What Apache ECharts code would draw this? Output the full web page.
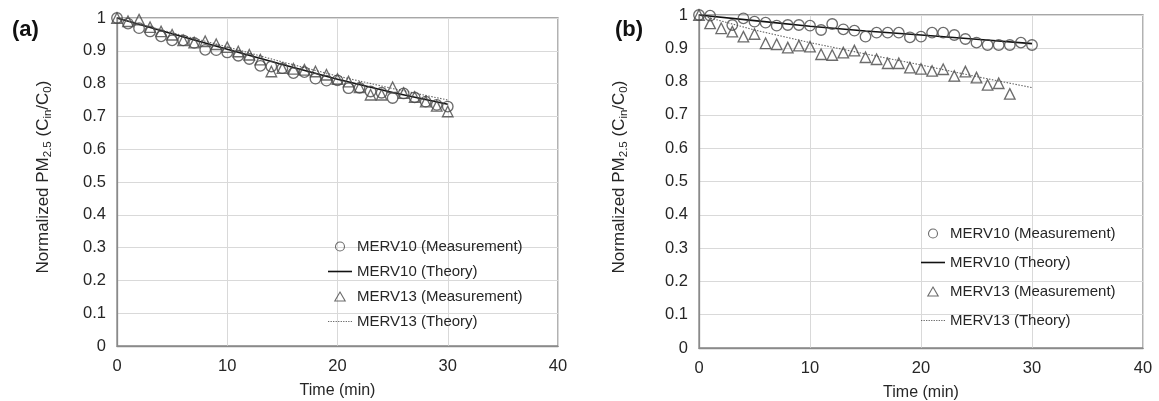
<!DOCTYPE html>
<html>
<head>
<meta charset="utf-8">
<script src="https://cdn.jsdelivr.net/npm/echarts@6/dist/echarts.min.js"></script>
<style>
  html, body { margin: 0; padding: 0; background: #ffffff; }
  #chart { width: 1159px; height: 401px; }
</style>
</head>
<body>
<div id="chart"></div>
<script>
// Sampling times (min) for the measured points
const timeMin = [0, 1, 2, 3, 4, 5, 6, 7, 8, 9, 10, 11, 12, 13, 14, 15, 16, 17, 18, 19, 20, 21, 22, 23, 24, 25, 26, 27, 28, 29, 30];
// Times (min) at which the theory curves are given
const theoryTime = [0, 5, 10, 15, 20, 25, 30];

// Panel (a)
const aMerv10Meas = [1.000, 0.983, 0.969, 0.959, 0.944, 0.932, 0.932, 0.924, 0.903, 0.902, 0.895, 0.885, 0.875, 0.854, 0.852, 0.847, 0.832, 0.835, 0.815, 0.809, 0.810, 0.786, 0.787, 0.776, 0.772, 0.756, 0.770, 0.758, 0.745, 0.735, 0.730];
const aMerv13Meas = [1.000, 0.990, 0.995, 0.972, 0.959, 0.949, 0.932, 0.925, 0.929, 0.920, 0.911, 0.898, 0.888, 0.873, 0.837, 0.847, 0.845, 0.842, 0.837, 0.827, 0.814, 0.806, 0.789, 0.766, 0.766, 0.789, 0.771, 0.759, 0.745, 0.732, 0.715];
const aMerv10Theory = [1.000, 0.952, 0.905, 0.858, 0.813, 0.773, 0.737];
const aMerv13Theory = [1.000, 0.955, 0.912, 0.866, 0.823, 0.785, 0.750];

// Panel (b)
const bMerv10Meas = [1.000, 0.998, null, 0.970, 0.990, 0.980, 0.977, 0.968, 0.970, 0.970, 0.968, 0.955, 0.973, 0.957, 0.953, 0.935, 0.947, 0.947, 0.947, 0.933, 0.935, 0.947, 0.947, 0.940, 0.928, 0.917, 0.910, 0.910, 0.910, 0.917, 0.910];
const bMerv13Meas = [1.000, 0.975, 0.960, 0.950, 0.935, 0.943, 0.915, 0.912, 0.902, 0.908, 0.905, 0.882, 0.880, 0.887, 0.893, 0.873, 0.867, 0.855, 0.855, 0.842, 0.838, 0.832, 0.837, 0.817, 0.830, 0.812, 0.790, 0.795, 0.763, null, null];
const bMerv10Theory = [1.000, 0.983, 0.966, 0.952, 0.940, 0.927, 0.914];
const bMerv13Theory = [1.000, 0.955, 0.917, 0.883, 0.850, 0.815, 0.782];

// Legend / series names
const seriesNames = ['MERV10 (Measurement)', 'MERV10 (Theory)', 'MERV13 (Measurement)', 'MERV13 (Theory)'];
const panelLabels = ['(a)', '(b)'];
const xTitle = 'Time (min)';
const yTitle = 'Normalized PM{s|2.5} (C{s|in}/C{s|0})';

const FONT = '"Liberation Sans", Arial, Helvetica, sans-serif';
const TEXT = '#262626';
const MARK = '#474747';
const SOLID = '#111111';
const DOT = '#666666';

function pairs(xs, ys) {
  const out = [];
  xs.forEach((x, i) => { if (ys[i] != null) out.push([x, ys[i]]); });
  return out;
}

function measSeries(name, idx, symbol, ys) {
  return {
    name, type: 'scatter', xAxisIndex: idx, yAxisIndex: idx,
    symbol, symbolSize: 10.5,
    itemStyle: { color: 'rgba(255,255,255,0)', borderColor: MARK, borderWidth: 1.35 },
    emphasis: { disabled: true },
    z: 3,
    data: pairs(timeMin, ys)
  };
}
function theorySeries(name, idx, ys, dotted) {
  return {
    name, type: 'line', xAxisIndex: idx, yAxisIndex: idx,
    symbol: 'none', showSymbol: false,
    lineStyle: dotted
      ? { color: DOT, width: 1.1, type: [1.5, 1.5] }
      : { color: SOLID, width: 1.6 },
    itemStyle: { color: dotted ? DOT : SOLID },
    emphasis: { disabled: true },
    z: 2,
    data: pairs(theoryTime, ys)
  };
}

// Legend swatches: a thin bar for the solid curve, a row of dots for the dotted one
function dottedPath(len, dash, gap, h) {
  let d = '';
  for (let x = 0; x + dash <= len; x += dash + gap) d += 'M' + x + ',0h' + dash + 'v' + h + 'h-' + dash + 'z';
  return 'path://' + d;
}
const hollow = { color: 'rgba(255,255,255,0)', borderColor: MARK, borderWidth: 1.1 };
const legendItems = [
  { name: seriesNames[0], icon: 'circle', itemStyle: hollow },
  { name: seriesNames[1], icon: 'path://M0,0H24V1.6H0Z', itemStyle: { color: SOLID } },
  { name: seriesNames[2], icon: 'path://M5,0L10,8.66L0,8.66Z', itemStyle: hollow },
  { name: seriesNames[3], icon: dottedPath(24, 1.2, 1.2, 1.1), itemStyle: { color: DOT } }
];

const grids = [
  { left: 117, right: 601, top: 18, bottom: 55 },
  { left: 699, right: 16, top: 15, bottom: 53 }
];

function xAxisFor(idx) {
  return {
    type: 'value', gridIndex: idx, min: 0, max: 40, interval: 10,
    name: xTitle, nameLocation: 'middle', nameGap: 37,
    nameTextStyle: { fontFamily: FONT, fontSize: 16, color: TEXT },
    axisLine: { show: true, lineStyle: { color: '#8a8a8a', width: 1.3 } },
    axisTick: { show: false },
    axisLabel: { fontFamily: FONT, fontSize: 16.5, color: TEXT, margin: 12 },
    splitLine: { show: true, lineStyle: { color: '#d9d9d9', width: 1 } }
  };
}
function yAxisFor(idx) {
  return {
    type: 'value', gridIndex: idx, min: 0, max: 1, interval: 0.1,
    axisLine: { show: true, lineStyle: { color: '#8a8a8a', width: 1.3 } },
    axisTick: { show: false },
    axisLabel: { fontFamily: FONT, fontSize: 16.5, color: TEXT, margin: 11 },
    splitLine: { show: true, lineStyle: { color: '#d9d9d9', width: 1 } }
  };
}
function legendFor(left, top, gap) {
  return {
    orient: 'vertical', left, top, padding: 0,
    itemWidth: 24, itemHeight: 9, itemGap: gap,
    symbolKeepAspect: true,
    data: legendItems,
    selectedMode: false,
    textStyle: { fontFamily: FONT, fontSize: 15, color: TEXT, lineHeight: 15 }
  };
}
function yTitleGraphic(x, y) {
  return {
    type: 'text', x, y, rotation: Math.PI / 2,
    style: {
      text: yTitle,
      fontFamily: FONT, fontSize: 17, lineHeight: 21, fill: TEXT,
      align: 'center', verticalAlign: 'middle',
      rich: { s: { fontFamily: FONT, fontSize: 11.5, lineHeight: 11.5, verticalAlign: 'bottom', fill: TEXT } }
    }
  };
}
function panelLabel(text, x, y) {
  return {
    type: 'text', x, y,
    style: { text, fontFamily: FONT, fontSize: 22, fontWeight: 'bold', fill: '#111111', verticalAlign: 'middle' }
  };
}

const option = {
  backgroundColor: '#ffffff',
  animation: false,
  grid: grids.map(g => Object.assign({
    show: true, borderColor: '#8a8a8a', borderWidth: 1.3, backgroundColor: 'transparent',
    containLabel: false, outerBoundsMode: 'none'
  }, g)),
  xAxis: [xAxisFor(0), xAxisFor(1)],
  yAxis: [yAxisFor(0), yAxisFor(1)],
  legend: [legendFor(328, 239, 10), legendFor(921, 226, 14)],
  graphic: [
    panelLabel(panelLabels[0], 12, 30),
    panelLabel(panelLabels[1], 615, 30),
    yTitleGraphic(43, 177),
    yTitleGraphic(619, 177)
  ],
  series: [
    theorySeries(seriesNames[1], 0, aMerv10Theory, false),
    theorySeries(seriesNames[3], 0, aMerv13Theory, true),
    measSeries(seriesNames[0], 0, 'circle', aMerv10Meas),
    measSeries(seriesNames[2], 0, 'triangle', aMerv13Meas),
    theorySeries(seriesNames[1], 1, bMerv10Theory, false),
    theorySeries(seriesNames[3], 1, bMerv13Theory, true),
    measSeries(seriesNames[0], 1, 'circle', bMerv10Meas),
    measSeries(seriesNames[2], 1, 'triangle', bMerv13Meas)
  ]
};

const chart = echarts.init(document.getElementById('chart'), null, { renderer: 'canvas' });
chart.setOption(option);
</script>
</body>
</html>
